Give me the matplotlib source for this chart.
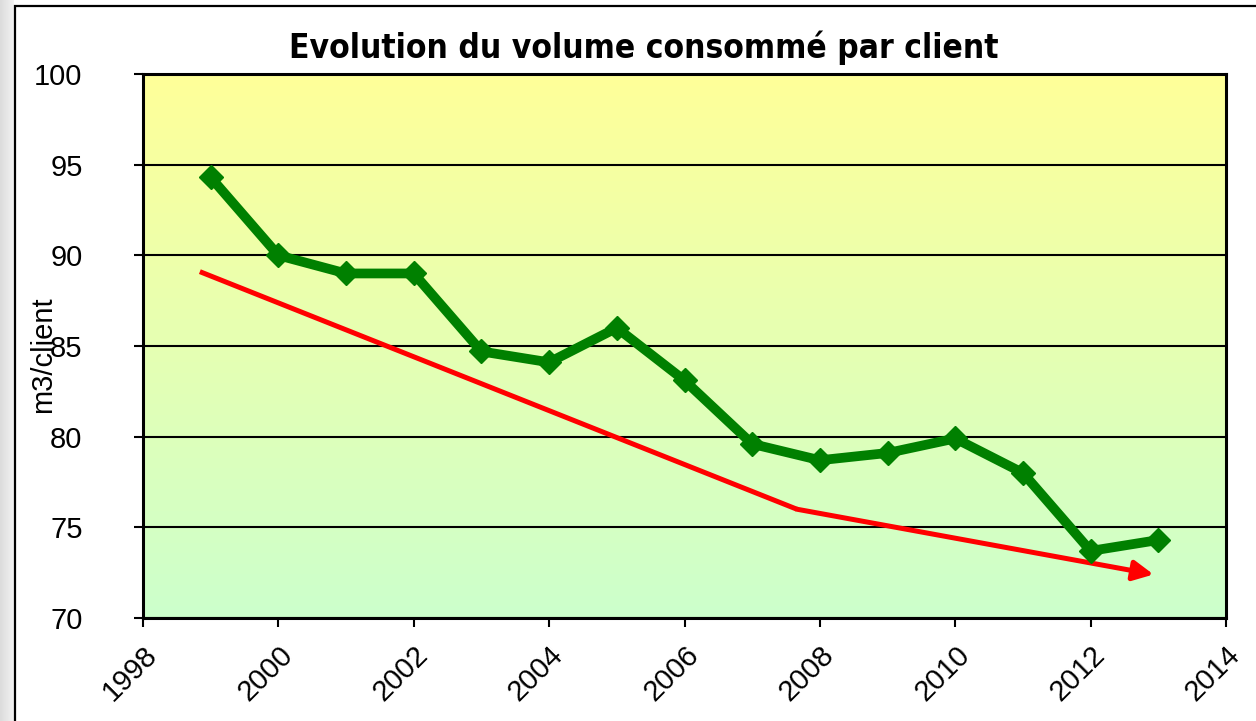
import numpy as np
import matplotlib
matplotlib.use("Agg")
import matplotlib.pyplot as plt
from matplotlib.patches import Rectangle

years = [1999, 2000, 2001, 2002, 2003, 2004, 2005, 2006, 2007, 2008, 2009, 2010, 2011, 2012, 2013]
volume = [94.3, 90.0, 89.0, 89.0, 84.7, 84.1, 86.0, 83.1, 79.6, 78.7, 79.1, 79.9, 78.0, 73.7, 74.3]
trend_x = [1998.84, 2007.66, 2012.93]
trend_y = [89.1, 76.0, 72.4]
xticks = [1998, 2000, 2002, 2004, 2006, 2008, 2010, 2012, 2014]
yticks = [70, 75, 80, 85, 90, 95, 100]
title = "Evolution du volume consommé par client"
ylabel = "m3/client"

W, H = 1256, 721
fig = plt.figure(figsize=(W / 100, H / 100), dpi=100)
fig.patch.set_facecolor("white")

# left grey strip
gax = fig.add_axes([0, 0, 14 / W, 1])
gax.imshow(np.linspace(0.86, 0.95, 64).reshape(1, -1), cmap="gray", vmin=0, vmax=1,
           aspect="auto", extent=[0, 1, 0, 1])
gax.axis("off")

# outer frame
fig.patches.append(Rectangle((15 / W, -0.1), 1.2, 1 - 6 / H + 0.1, transform=fig.transFigure,
                             fill=False, edgecolor="black", linewidth=1.6))

ax = fig.add_axes([143 / W, 103 / H, (1226 - 143) / W, (618 - 74) / H])
ax.set_xlim(1998, 2014)
ax.set_ylim(70, 100)

# gradient background
top = np.array([255, 255, 153]) / 255
bot = np.array([204, 255, 204]) / 255
t = np.linspace(0, 1, 256).reshape(-1, 1, 1)
grad = top * (1 - t) + bot * t
ax.imshow(grad, aspect="auto", extent=[1998, 2014, 70, 100], origin="upper", zorder=0)

ax.set_yticks(yticks)
ax.set_xticks(xticks)
ax.grid(axis="y", color="black", linewidth=1.5, zorder=1)
for s in ax.spines.values():
    s.set_linewidth(2.2)
ax.tick_params(axis="y", direction="out", length=6.5, width=1.5, pad=37, labelsize=21)
ax.tick_params(axis="x", direction="out", length=6.5, width=1.5, pad=10, labelsize=21)
for lab in ax.get_yticklabels() + ax.get_xticklabels():
    lab.set_fontfamily(["Liberation Sans", "DejaVu Sans"])
for lab in ax.get_xticklabels():
    lab.set_rotation(45)
    lab.set_ha("right")
    lab.set_va("top")
    lab.set_rotation_mode("anchor")

# trend line with arrow
ax.plot(trend_x[:2], trend_y[:2], color="#ff0000", linewidth=3.6, zorder=3,
        solid_capstyle="butt")
ax.annotate("", xy=(trend_x[2], trend_y[2]), xytext=(trend_x[1], trend_y[1]),
            arrowprops=dict(arrowstyle="-|>,head_length=1.2,head_width=0.6",
                            color="#ff0000", linewidth=3.6, shrinkA=0, shrinkB=0),
            zorder=3)

# main series
ax.plot(years, volume, color="#008000", linewidth=7, marker="D", markersize=12,
        zorder=4)

fig.text(644 / W, 1 - 48 / H, title, ha="center", va="center", fontsize=24,
         fontweight="bold", fontstretch="condensed", family=["DejaVu Sans"])
fig.text(43 / W, 1 - 355 / H, ylabel, ha="center", va="center", rotation=90,
         fontsize=21, family=["Liberation Sans", "DejaVu Sans"])

fig.savefig("out.png", dpi=100)
